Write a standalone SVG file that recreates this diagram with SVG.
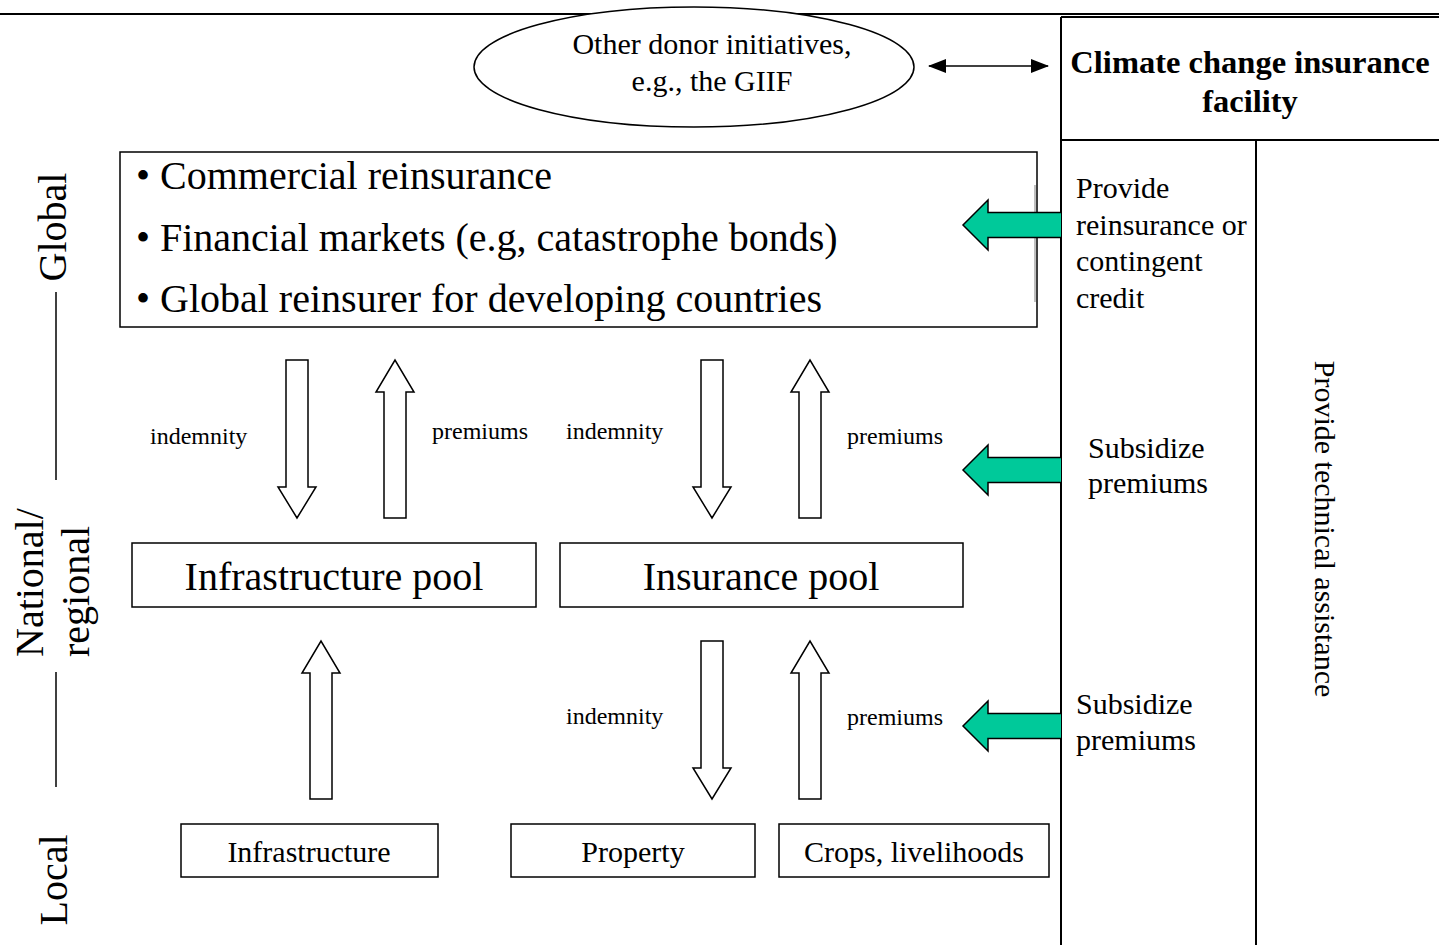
<svg xmlns="http://www.w3.org/2000/svg" width="1439" height="945" viewBox="0 0 1439 945">
<defs>
<style>
text{font-family:"Liberation Serif","Times New Roman",serif;fill:#000}
.box{fill:#fff;stroke:#000;stroke-width:1.5}
.ln{stroke:#000;stroke-width:2;fill:none}
.hol{fill:#fff;stroke:#000;stroke-width:1.5;stroke-linejoin:miter}
.grn{fill:#00C99A;stroke:#000;stroke-width:1.5}
.s24{font-size:24px}
.s30{font-size:30px}
.s40{font-size:40px}
</style>
<marker id="ah" viewBox="0 0 18 14" refX="17" refY="7" markerWidth="18" markerHeight="14" markerUnits="userSpaceOnUse" orient="auto-start-reverse">
<path d="M0,0 L18,7 L0,14 z" fill="#000"/>
</marker>
</defs>
<rect width="1439" height="945" fill="#fff"/>
<line x1="0" y1="14" x2="1439" y2="14" class="ln"/>

<g id="levels">
<text class="s40" transform="translate(66,227) rotate(-90)" text-anchor="middle">Global</text>
<line x1="56" y1="292" x2="56" y2="480" stroke="#000" stroke-width="1.5"/>
<text class="s40" transform="translate(43,657) rotate(-90)">National/</text>
<text class="s40" transform="translate(89,657) rotate(-90)">regional</text>
<line x1="56" y1="672" x2="56" y2="787" stroke="#000" stroke-width="1.5"/>
<text class="s40" transform="translate(67,880) rotate(-90)" text-anchor="middle">Local</text>
</g>

<g id="donor">
<ellipse cx="694" cy="67" rx="220" ry="60" class="box"/>
<text class="s30" x="712" y="54" text-anchor="middle">Other donor initiatives,</text>
<text class="s30" x="712" y="91" text-anchor="middle">e.g., the GIIF</text>
</g>

<g id="facility">
<line x1="1061" y1="17" x2="1061" y2="945" class="ln"/>
<line x1="1061" y1="17" x2="1439" y2="17" class="ln"/>
<line x1="1061" y1="140" x2="1439" y2="140" class="ln"/>
<line x1="1256" y1="140" x2="1256" y2="945" class="ln"/>
<text x="1250" y="73" text-anchor="middle" font-size="32.5" font-weight="bold">Climate change insurance</text>
<text x="1250" y="112" text-anchor="middle" font-size="32.5" font-weight="bold">facility</text>
<text class="s30" x="1076" y="198">Provide</text>
<text class="s30" x="1076" y="234.5">reinsurance or</text>
<text class="s30" x="1076" y="271">contingent</text>
<text class="s30" x="1076" y="307.5">credit</text>
<text class="s30" x="1088" y="458">Subsidize</text>
<text class="s30" x="1088" y="493">premiums</text>
<text class="s30" x="1076" y="714">Subsidize</text>
<text class="s30" x="1076" y="750">premiums</text>
<text class="s30" transform="translate(1315,529) rotate(90)" text-anchor="middle">Provide technical assistance</text>
</g>

<g id="global-markets">
<rect x="120" y="152" width="917" height="175" class="box"/>
<line x1="1035" y1="185" x2="1035" y2="302" stroke="#aaa" stroke-width="1.5"/>
<text class="s40" x="136" y="189">• Commercial reinsurance</text>
<text class="s40" x="136" y="251">• Financial markets (e.g, catastrophe bonds)</text>
<text class="s40" x="136" y="312">• Global reinsurer for developing countries</text>
</g>

<g id="infrastructure-pool">
<rect x="132" y="543" width="404" height="64" class="box"/>
<text class="s40" x="334" y="590" text-anchor="middle">Infrastructure pool</text>
</g>
<g id="insurance-pool">
<rect x="560" y="543" width="403" height="64" class="box"/>
<text class="s40" x="761" y="590" text-anchor="middle">Insurance pool</text>
</g>

<g id="infrastructure">
<rect x="181" y="824" width="257" height="53" class="box"/>
<text class="s30" x="309" y="862" text-anchor="middle">Infrastructure</text>
</g>
<g id="property">
<rect x="511" y="824" width="244" height="53" class="box"/>
<text class="s30" x="633" y="862" text-anchor="middle">Property</text>
</g>
<g id="crops">
<rect x="779" y="824" width="270" height="53" class="box"/>
<text class="s30" x="914" y="862" text-anchor="middle">Crops, livelihoods</text>
</g>

<g id="connectors">
<line x1="929" y1="66" x2="1048" y2="66" stroke="#000" stroke-width="1.5" marker-start="url(#ah)" marker-end="url(#ah)"/>
<path class="hol" d="M286,360 H308 V487 H316 L297,518 L278,487 H286 Z"/>
<path class="hol" d="M384,518 H406 V392 H414 L395,360 L376,392 H384 Z"/>
<path class="hol" d="M701,360 H723 V487 H731 L712,518 L693,487 H701 Z"/>
<path class="hol" d="M799,518 H821 V392 H829 L810,360 L791,392 H799 Z"/>
<path class="hol" d="M310,799 H332 V673 H340 L321,641 L302,673 H310 Z"/>
<path class="hol" d="M701,641 H723 V768 H731 L712,799 L693,768 H701 Z"/>
<path class="hol" d="M799,799 H821 V673 H829 L810,641 L791,673 H799 Z"/>
<text class="s24" x="150" y="444">indemnity</text>
<text class="s24" x="432" y="439">premiums</text>
<text class="s24" x="566" y="439">indemnity</text>
<text class="s24" x="847" y="444">premiums</text>
<text class="s24" x="566" y="724">indemnity</text>
<text class="s24" x="847" y="725">premiums</text>
<path class="grn" d="M1061,212.5 H988 V200 L963,225 L988,250 V237.5 H1061"/>
<path class="grn" d="M1061,457.5 H988 V445 L963,470 L988,495 V482.5 H1061"/>
<path class="grn" d="M1061,713.5 H988 V701 L963,726 L988,751 V738.5 H1061"/>
</g>
</svg>
